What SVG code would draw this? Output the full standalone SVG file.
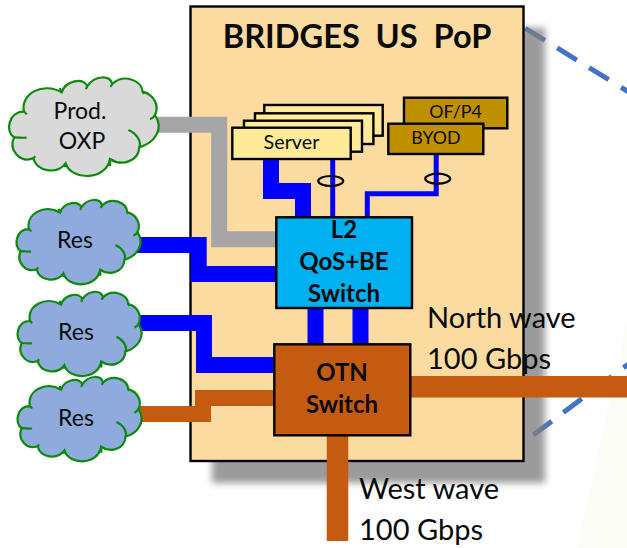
<svg xmlns="http://www.w3.org/2000/svg" xmlns:xlink="http://www.w3.org/1999/xlink" width="627" height="548" viewBox="0 0 627 548">
<style>
text{font-family:"Lato","Open Sans","Liberation Sans",sans-serif;fill:#0a0a0a;text-anchor:middle}
.b{font-weight:700}
.w{font-size:29px;text-anchor:start}
.c{font-size:23px}
.s{font-size:17.8px}
.sw{font-size:24px;font-weight:700}
.box{stroke:#000;stroke-width:2.4}
.srv{fill:#ffeb98}
.by{fill:#bf9000}
.cl path{stroke:#0b8a0b;stroke-width:2.2;vector-effect:non-scaling-stroke}
.cl .tick{fill:none}
.link{fill:none;stroke-linejoin:miter}
.big{stroke-width:16}
.thin{stroke-width:5}
.blue{stroke:#0000ff}
.or{stroke:#c55a11}
.dash{fill:none;stroke:#4472c4;stroke-width:5;stroke-dasharray:23 14.5}
.oval{fill:none;stroke:#000;stroke-width:2.2}
</style>
<defs>
<filter id="blur" x="-10%" y="-10%" width="120%" height="120%"><feGaussianBlur stdDeviation="3.5"/></filter>
<g id="cloud" class="cl">
<path d="M72 155C60 100 130 65 185 97C195 65 245 50 262 78C285 45 330 45 337 72C370 40 425 60 428 95C465 105 478 140 465 165C495 210 460 250 418 262C415 305 365 320 330 297C320 360 215 365 197 310C170 345 110 335 100 295C60 310 25 270 42 232C15 215 25 155 72 155Z"/>
<path class="tick" d="M72 155C76 157 78 160 80 163M185 97C182 93 181 88 180 84M262 78C260 81 259 84 258 88M337 72C335 75 333 78 331 80M428 95C430 98 431 100 432 102M465 165C462 171 455 176 450 178M385 210C410 220 425 245 418 262M330 297C331 304 331 311 330 318M197 310C195 314 195 318 195 322M100 295C102 293 104 291 106 289M42 232C55 233 68 234 80 233"/>
</g>
</defs>
<polygon points="627,320 577,548 627,548" fill="#fdfdf8"/>
<g id="dashes">
<line class="dash" x1="525.3" y1="28.3" x2="640" y2="99"/>
<line class="dash" x1="533.3" y1="435" x2="640" y2="355.4"/>
</g>
<rect x="212" y="28" width="333" height="455" fill="#7f7f7f" opacity=".78" filter="url(#blur)"/>
<rect id="panel" x="190.5" y="6.5" width="333" height="454.5" fill="#fbdba0" stroke="#000" stroke-width="2.4"/>
<text class="b" x="357" y="48" font-size="32.6" xml:space="preserve">BRIDGES  US  PoP</text>
<g id="connectors">
<path class="link big" stroke="#a6a6a6" d="M155 124.7H219.2V239.3H280"/>
<path class="link big blue" d="M135 245H198.7V274H280"/>
<path class="link big blue" d="M135 323H204V365H278"/>
<path class="link big or" d="M135 414H203V398H278"/>
<path class="link big blue" d="M271 158V191H303V220"/>
<path class="link thin blue" d="M332.7 158V220"/>
<path class="link thin blue" d="M436.2 153V193.7H367.3V220"/>
<path class="link big blue" d="M315.5 305V348"/>
<path class="link big blue" d="M360.5 305V348"/>
<path class="link or" stroke-width="21.5" d="M408 386.7H627"/>
<path class="link or" stroke-width="21.5" d="M337.5 433V541"/>
<ellipse class="oval" cx="330.7" cy="181" rx="12.5" ry="5"/>
<ellipse class="oval" cx="437.7" cy="178.7" rx="12.5" ry="5"/>
</g>
<g id="prod-oxp"><use xlink:href="#cloud" href="#cloud" transform="translate(0 60) scale(.3333)" fill="#d9d9d9"/><text class="c" x="80" y="119">Prod.</text><text class="c" x="82" y="149">OXP</text></g>
<g id="res-1"><use xlink:href="#cloud" href="#cloud" transform="translate(9 185) scale(.2763 .2853)" fill="#8faadc"/><text class="c" x="75" y="248">Res</text></g>
<g id="res-2"><use xlink:href="#cloud" href="#cloud" transform="translate(10 276.8) scale(.2763 .2853)" fill="#8faadc"/><text class="c" x="76" y="340">Res</text></g>
<g id="res-3"><use xlink:href="#cloud" href="#cloud" transform="translate(10 362) scale(.2763 .2853)" fill="#8faadc"/><text class="c" x="76" y="425.7">Res</text></g>
<g id="server">
<rect class="box srv" x="264.3" y="105" width="118.4" height="30.7"/>
<rect class="box srv" x="255" y="113.3" width="118.4" height="30.7"/>
<rect class="box srv" x="244" y="120.7" width="118" height="31"/>
<rect class="box srv" x="232.3" y="127.7" width="118.4" height="31.3"/>
<text x="291.5" y="149.3" font-size="19.8">Server</text>
</g>
<g id="of-p4"><rect class="box by" x="404" y="97.7" width="103.3" height="30.6"/><text class="s" x="455.5" y="118.3">OF/P4</text></g>
<g id="byod"><rect class="box by" x="388.3" y="123.7" width="95" height="30.3"/><text class="s" x="436" y="144.3">BYOD</text></g>
<g id="l2"><rect class="box" x="276.3" y="217.3" width="135.7" height="90.7" fill="#00b0f0"/><text class="sw" x="344" y="238.3">L2</text><text class="sw" x="344" y="270">QoS+BE</text><text class="sw" x="344" y="302.3">Switch</text></g>
<g id="otn"><rect class="box" x="274.3" y="344.3" width="136" height="91" fill="#c55a11"/><text class="sw" x="342" y="381">OTN</text><text class="sw" x="342" y="413.3">Switch</text></g>
<text class="w" x="427" y="328">North wave</text>
<text class="w" x="427" y="369">100 Gbps</text>
<text class="w" x="359" y="499">West wave</text>
<text class="w" x="359" y="540">100 Gbps</text>
</svg>
